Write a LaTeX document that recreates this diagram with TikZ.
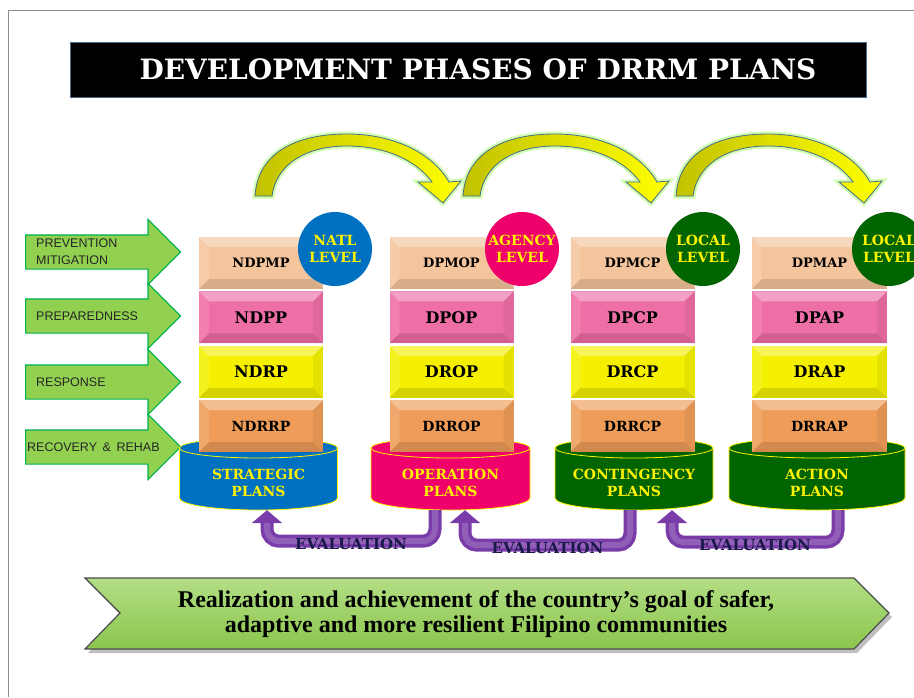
\documentclass[tikz,border=0pt]{standalone}
\usepackage{fontspec}
\setmainfont{DejaVu Serif}
\newfontfamily\phasesans{Liberation Sans}
\newfontfamily\goalfont{Liberation Serif}
\usetikzlibrary{shapes.arrows,arrows.meta,positioning}

\definecolor{natlblue}{HTML}{0070C0}
\definecolor{agencypink}{HTML}{F0006A}
\definecolor{localgreen}{HTML}{006400}
\definecolor{peach}{HTML}{F4C49C}
\definecolor{tierpink}{HTML}{EE6EA6}
\definecolor{tieryellow}{HTML}{F4F000}
\definecolor{tierorange}{HTML}{EE9C58}
\definecolor{phasegreen}{HTML}{92D050}
\definecolor{phaseedge}{HTML}{00B050}
\definecolor{evalpurple}{HTML}{7A3CA8}
\definecolor{evaltext}{HTML}{1A1A4A}
\definecolor{arcedge}{HTML}{4A6A8A}
\definecolor{arcolive}{HTML}{C2C200}
\definecolor{goalgreen}{HTML}{92D050}

% bevelled look for the plan tiers
\tikzset{bevel/.style={path picture={
  \fill[white,opacity=.35] (path picture bounding box.north west) -- (path picture bounding box.north east)
    -- ([shift={(-10pt,-10pt)}]path picture bounding box.north east) -- ([shift={(10pt,-10pt)}]path picture bounding box.north west) -- cycle;
  \fill[white,opacity=.12] (path picture bounding box.north west) -- (path picture bounding box.south west)
    -- ([shift={(10pt,10pt)}]path picture bounding box.south west) -- ([shift={(10pt,-10pt)}]path picture bounding box.north west) -- cycle;
  \fill[black,opacity=.06] (path picture bounding box.north east) -- (path picture bounding box.south east)
    -- ([shift={(-10pt,10pt)}]path picture bounding box.south east) -- ([shift={(-10pt,-10pt)}]path picture bounding box.north east) -- cycle;
  \fill[black,opacity=.12] (path picture bounding box.south west) -- (path picture bounding box.south east)
    -- ([shift={(-10pt,10pt)}]path picture bounding box.south east) -- ([shift={(10pt,10pt)}]path picture bounding box.south west) -- cycle;
}}}

% drum under each column: centre x, half width, colour
\newcommand{\plandrum}[3]{%
  \fill[#3, draw=yellow, line width=0.8pt] (#1-#2,448) -- (#1-#2,498)
    arc[start angle=180, end angle=360, x radius=#2pt, y radius=12pt] -- (#1+#2,448) -- cycle;
  \draw[yellow, line width=0.8pt, fill=#3] (#1,448) ellipse[x radius=#2pt, y radius=10pt];
}

\begin{document}
\begin{tikzpicture}[x=1pt, y=-1pt,
  tier/.style={bevel, minimum width=124pt, minimum height=52pt, inner sep=0pt, text=black},
  tiertop/.style={tier, fill=peach, font=\bfseries\fontsize{13}{13}\selectfont},
  tierprep/.style={tier, fill=tierpink, font=\bfseries\fontsize{16}{16}\selectfont},
  tierresp/.style={tier, fill=tieryellow, font=\bfseries\fontsize{16}{16}\selectfont},
  tierrec/.style={tier, fill=tierorange, font=\bfseries\fontsize{14}{14}\selectfont},
  badge/.style={circle, minimum size=74pt, inner sep=0pt, align=center, text=yellow, font=\bfseries\fontsize{14}{17}\selectfont},
  drumlabel/.style={minimum height=54pt, inner sep=0pt, align=center, text=yellow, font=\bfseries\fontsize{14}{17}\selectfont},
  phase/.style={single arrow, draw=phaseedge, fill=phasegreen, line width=1.2pt, minimum height=155pt,
    single arrow head extend=15.5pt, single arrow tip angle=90, inner xsep=0pt, inner ysep=16.5pt, anchor=west},
  phaselabel/.style={anchor=west, align=left, inner sep=0pt, text=black!85, font=\phasesans\fontsize{12.5}{17}\selectfont},
  evalarr/.style={draw=evalpurple, line width=13pt, rounded corners=12pt, -{Triangle[width=30pt,length=13pt]},
    postaction={draw=evalpurple!82!white, line width=6pt, -, shorten >=13pt}},
  evallabel/.style={text=evaltext, inner sep=0pt, yshift=-3pt, font=\bfseries\fontsize{15}{15}\selectfont}
]
\useasboundingbox (0,0) rectangle (914,697);
\clip (0,0) rectangle (914,697);

% frame
\draw[black!45, line width=1pt] (8,697) -- (8,10) -- (914,10);

% title
\node[fill=black, draw=arcedge, minimum width=796pt, minimum height=55pt] (titlebar) at (468,69.5) {};
\node[text=white, font=\bfseries\fontsize{28}{28}\selectfont] (title) at ([xshift=10pt]titlebar.center) {DEVELOPMENT PHASES OF DRRM PLANS};

% jumps between the columns
\foreach \dx in {0,208,421}{
\begin{scope}[shift={(\dx,0)}]
\path[draw=arcedge, line width=0.8pt, left color=arcolive, right color=yellow,
      preaction={draw=green!60!yellow!30, line width=5pt}]
  (255,196) .. controls (258,150) and (300,134) .. (347,134)
  .. controls (392,134) and (432,152) .. (449,182)
  -- (461,181) -- (443,203) -- (418,182) -- (432,182)
  .. controls (416,160) and (385,146) .. (347,146)
  .. controls (305,146) and (276,165) .. (272,196) -- cycle;
\end{scope}
}

% phases
\node[phase] (prev) at (25,252) {};
\node[phase] (prep) at (25,316) {};
\node[phase] (resp) at (25,382) {};
\node[phase] (recov) at (25,447) {};
\node[phaselabel] at ([xshift=11pt]prev.west) {PREVENTION\\MITIGATION};
\node[phaselabel] at ([xshift=11pt]prep.west) {PREPAREDNESS};
\node[phaselabel] at ([xshift=11pt]resp.west) {RESPONSE};
\node[phaselabel] at ([xshift=2pt]recov.west) {RECOVERY \,\& \,REHAB};

% drums
\plandrum{258.5}{79}{natlblue}
\plandrum{450.5}{79.5}{agencypink}
\plandrum{634}{79}{localgreen}
\plandrum{817}{88}{localgreen}
\node[drumlabel, minimum width=158pt] (strat) at (258.5,483) {STRATEGIC\\PLANS};
\node[drumlabel, minimum width=159pt] (oper) at (450.5,483) {OPERATION\\PLANS};
\node[drumlabel, minimum width=158pt] (cont) at (634,483) {CONTINGENCY\\PLANS};
\node[drumlabel, minimum width=176pt] (act) at (817,483) {ACTION\\PLANS};

% national
\node[tiertop] (ndpmp) at (261,263) {NDPMP};
\node[tierprep, below=2pt of ndpmp] (ndpp) {NDPP};
\node[tierresp, below=2pt of ndpp] (ndrp) {NDRP};
\node[tierrec, below=2pt of ndrp] (ndrrp) {NDRRP};
% agency
\node[tiertop] (dpmop) at (451.5,263) {DPMOP};
\node[tierprep, below=2pt of dpmop] (dpop) {DPOP};
\node[tierresp, below=2pt of dpop] (drop) {DROP};
\node[tierrec, below=2pt of drop] (drrop) {DRROP};
% contingency
\node[tiertop] (dpmcp) at (632.5,263) {DPMCP};
\node[tierprep, below=2pt of dpmcp] (dpcp) {DPCP};
\node[tierresp, below=2pt of dpcp] (drcp) {DRCP};
\node[tierrec, below=2pt of drcp] (drrcp) {DRRCP};
% action
\node[tiertop, minimum width=135pt] (dpmap) at (819.5,263) {DPMAP};
\node[tierprep, minimum width=135pt, below=2pt of dpmap] (dpap) {DPAP};
\node[tierresp, minimum width=135pt, below=2pt of dpap] (drap) {DRAP};
\node[tierrec, minimum width=135pt, below=2pt of drap] (drrap) {DRRAP};

% levels
\node[badge, fill=natlblue] (natl) at (335,249) {NATL\\LEVEL};
\node[badge, fill=agencypink] (agency) at (522,249) {AGENCY\\LEVEL};
\node[badge, fill=localgreen] (local) at (703,249) {LOCAL\\LEVEL};
\node[badge, fill=localgreen] (localb) at (889,249) {LOCAL\\LEVEL};

% evaluation loops
\draw[evalarr] ([xshift=-15.5pt]oper.south) -- ++(0,31) -| node[pos=0.25, evallabel] {EVALUATION} ([xshift=8.5pt]strat.south);
\draw[evalarr] ([xshift=-4pt]cont.south) -- ++(0,35) -| node[pos=0.25, evallabel] {EVALUATION} ([xshift=14.5pt]oper.south);
\draw[evalarr] ([xshift=21pt]act.south) -- ++(0,32) -| node[pos=0.25, evallabel] {EVALUATION} ([xshift=38pt]cont.south);

% goal banner
\fill[black!25] (88,582) -- (857,582) -- (892,617) -- (857,653) -- (88,653) -- (123,617) -- cycle;
\path[draw=black!70, line width=1.2pt, top color=goalgreen!70!white, bottom color=goalgreen!95!black]
  (85,578) -- (854,578) -- (889,613) -- (854,649) -- (85,649) -- (120,613) -- cycle;
\node[align=center, inner sep=0pt, font=\goalfont\bfseries\fontsize{24}{25}\selectfont] (goal) at (476,614)
  {Realization and achievement of the country’s goal of safer,\\adaptive and more resilient Filipino communities};
\end{tikzpicture}
\end{document}
